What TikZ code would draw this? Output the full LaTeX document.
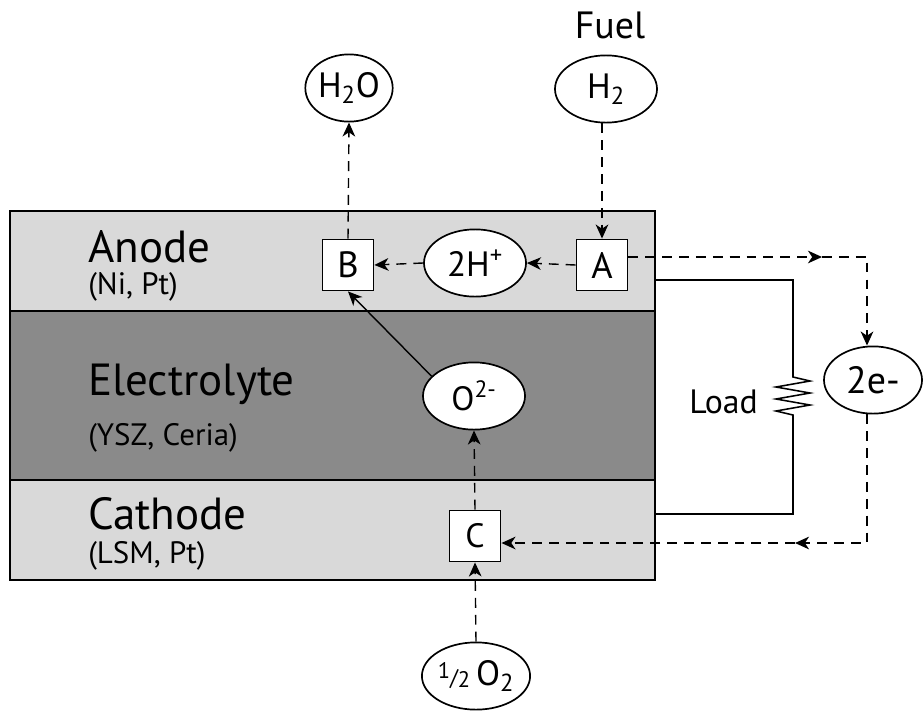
\documentclass[tikz,border=0pt]{standalone}
\usepackage{fontspec}
\setmainfont{PT Sans}
\usepackage{tikz}
\usetikzlibrary{shapes.geometric, arrows.meta, positioning, calc}
\definecolor{layerlight}{HTML}{D9D9D9}
\definecolor{layerdark}{HTML}{8A8A8A}

\begin{document}
\begin{tikzpicture}[x=0.025cm, y=-0.025cm,
    species/.style={draw, ellipse, fill=white, line width=1.2pt, minimum width=2.55cm, minimum height=1.68cm, inner sep=0pt, font=\fontsize{25}{30}\selectfont},
    site/.style={draw, rectangle, fill=white, line width=1.2pt, minimum size=1.28cm, inner sep=0pt, font=\fontsize{26}{30}\selectfont},
    flow/.style={dash pattern=on 7pt off 5pt, line width=1pt, -{Stealth[length=10pt,width=9pt,inset=3pt]}},
    path/.style={line width=1pt, -{Stealth[length=10pt,width=9pt,inset=3pt]}},
    layer/.style={inner sep=0pt, font=\fontsize{32}{36}\selectfont, anchor=base west},
    sublayer/.style={inner sep=0pt, font=\fontsize{22}{26}\selectfont, anchor=base west}]

    \useasboundingbox (0,0) rectangle (924,711);

    % Cell layers
    \draw[line width=1.3pt, fill=layerlight] (10,211) rectangle (655,311);
    \draw[line width=1.3pt, fill=layerdark] (10,311) rectangle (655,480);
    \draw[line width=1.3pt, fill=layerlight] (10,480) rectangle (655,580);

    \node[layer] (anode) at (88,262) {Anode};
    \node[sublayer] (anodemat) at (88,294) {(Ni, Pt)};
    \node[layer] (electrolyte) at (88,395) {Electrolyte};
    \node[sublayer] (electrolytemat) at (88,445) {(YSZ, Ceria)};
    \node[layer] (cathode) at (88,529) {Cathode};
    \node[sublayer] (cathodemat) at (88,563) {(LSM, Pt)};

    % Species and reaction sites
    \node[inner sep=0pt, font=\fontsize{27}{30}\selectfont, anchor=base] (fuel) at (610,38) {Fuel};
    \node[species, minimum width=2.15cm] (h2o) at (349,88) {H\textsubscript{2}O};
    \node[species] (h2) at (606,89) {H\textsubscript{2}};
    \node[site] (B) at (348,265) {B};
    \node[species] (hplus) at (475,263) {2H\textsuperscript{+}};
    \node[site] (A) at (602,265) {A};
    \node[species, font=\fontsize{24}{28}\selectfont] (oion) at (474,396) {O\textsuperscript{2-}};
    \node[site, font=\fontsize{24}{28}\selectfont] (C) at (475,536) {C};
    \node[species, font=\fontsize{25}{28}\selectfont] (o2) at (476,676) {{\fontsize{16}{16}\selectfont\raisebox{5pt}{1}/\raisebox{-1pt}{2}}\,O\textsubscript{2}};
    \node[species, minimum width=2.45cm, font=\fontsize{27}{30}\selectfont] (elec) at (873,380) {2e-};

    % Load circuit
    \coordinate (loadtop) at (655,280);
    \coordinate (loadbot) at (655,514);
    \draw[line width=1.1pt, line join=miter] (loadtop) -- (793,280) -- (793,377) -- (810,381) -- (776,387) -- (810,393)
        -- (776,399) -- (810,405) -- (776,411) -- (793,415) -- (793,514) -- (loadbot);
    \node[inner sep=0pt, font=\fontsize{24}{28}\selectfont, anchor=base east] (load) at (758,413) {Load};

    % Reactions
    \draw[flow] (h2.south -| A.north) -- (A.north);
    \draw[flow] (A.west) -- (hplus.east);
    \draw[flow] (hplus.west) -- (B.east);
    \draw[flow] (B.north) -- (h2o.south);
    \draw[path] (oion.155) -- (B.south);
    \draw[flow] (C.north) -- (oion.south);
    \draw[flow] (o2.north) -- (C.south);

    % Electron path
    \coordinate (eout) at ($(A.east)+(0,-8)$);
    \coordinate (emid) at (822,257);
    \coordinate (ecorner) at (867,257);
    \coordinate (cbottom) at (867,543);
    \coordinate (cmid) at (795,543);
    \draw[flow] (eout) -- (emid);
    \draw[flow] (emid) -- (ecorner) -- (ecorner |- elec.north);
    \draw[flow] (cbottom |- elec.south) -- (cbottom) -- (cmid);
    \draw[flow] (cmid) -- (C.east |- cmid);
\end{tikzpicture}
\end{document}
